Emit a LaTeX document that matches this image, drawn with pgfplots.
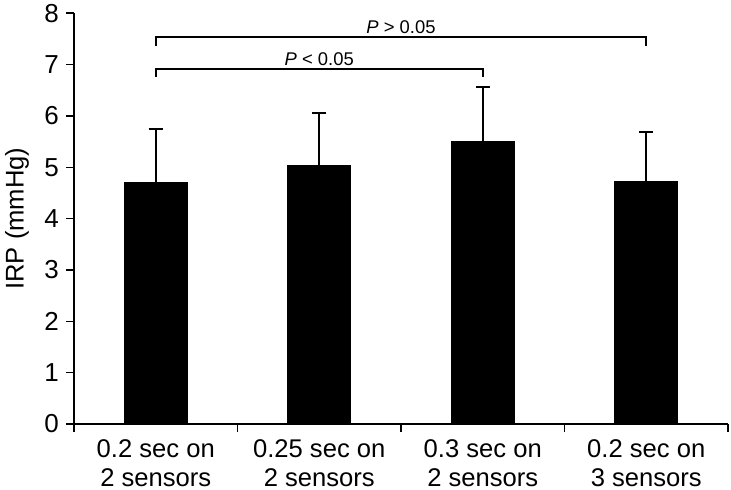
\documentclass[border=0pt]{standalone}
\usepackage{pgfplots}
\pgfplotsset{compat=1.18}
\usepackage{fontspec}
\setmainfont{Liberation Sans}
\begin{document}
\begin{tikzpicture}
\begin{axis}[
  at={(0,0)}, anchor=south west,
  scale only axis,
  width=327pt, height=205.4pt,
  xmin=-0.5, xmax=3.5, ymin=0, ymax=8,
  axis x line*=bottom, axis y line*=left,
  axis line style={line width=0.7pt},
  tick align=outside,
  tick style={black, line width=0.7pt},
  ytick={0,1,...,8},
  major tick length=4pt,
  xtick={-0.5,0.5,1.5,2.5,3.5},
  x tick label as interval,
  xticklabels={{0.2 sec on\\2 sensors},{0.25 sec on\\2 sensors},{0.3 sec on\\2 sensors},{0.2 sec on\\3 sensors}},
  x tick label style={align=center, font=\fontsize{12.8}{14.5}\selectfont, yshift=-0.5pt},
  y tick label style={font=\fontsize{13}{15}\selectfont},
  /pgf/number format/assume math mode=true,
  ylabel={IRP (mmHg)},
  ylabel style={at={(axis description cs:-0.087,0.5)}, anchor=center, font=\fontsize{12.8}{15}\selectfont},
  clip=false,
]
\addplot[ybar, bar width=31.5pt, fill=black, draw=black,
  error bars/.cd, y dir=plus, y explicit,
  error bar style={line width=1pt, black},
  error mark options={rotate=90, mark size=3.5pt, line width=1pt, black}]
  coordinates {
  (0,4.71) +- (0,1.04)
  (1,5.03) +- (0,1.03)
  (2,5.51) +- (0,1.05)
  (3,4.72) +- (0,0.97)
  };
\draw[line width=1pt] (axis cs:0,7.36) -- (axis cs:0,7.53) -- (axis cs:3,7.53) -- (axis cs:3,7.36);
\draw[line width=1pt] (axis cs:0,6.76) -- (axis cs:0,6.91) -- (axis cs:2,6.91) -- (axis cs:2,6.76);
\node[anchor=south, font=\fontsize{9.2}{11}\selectfont, inner sep=1.5pt] at (axis cs:1.5,7.53) {\textit{P} > 0.05};
\node[anchor=south, font=\fontsize{9.2}{11}\selectfont, inner sep=1.5pt] at (axis cs:1,6.91) {\textit{P} < 0.05};
\end{axis}
\pgfresetboundingbox
\path[use as bounding box] (-37pt,-33pt) rectangle (328.5pt,212pt);
\end{tikzpicture}
\end{document}
